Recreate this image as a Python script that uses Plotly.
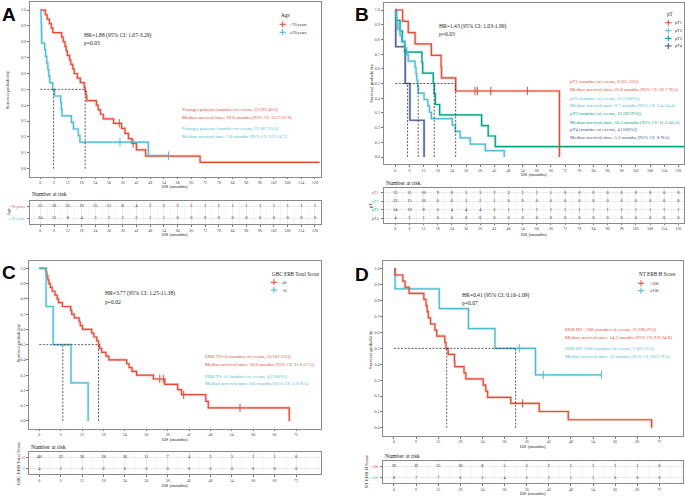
import plotly.graph_objects as go

W, H = 685, 497
RED = "#E64B35"
CYAN = "#4DBBD5"
GREEN = "#00A087"
NAVY = "#3C5488"
SERIF = "Liberation Serif"

# ---------------- Panel A : Age ----------------
a_groups = ["&lt;70 years", "≥70 years"]
a_lt70_t = [0, 2.2, 3.0, 4.0, 4.8, 5.5, 9.3, 10.0, 10.8, 11.3, 11.8, 12.8, 13.3, 14.2, 14.8, 16.2, 17.5,
            19.2, 19.6, 20.0, 20.3, 24.5, 25.3, 26.3, 27.5, 32.0, 35.5, 37.0, 38.5, 40.0, 42.0, 46.0, 69.8]
a_lt70_s = [1.0, 0.971, 0.943, 0.914, 0.886, 0.857, 0.829, 0.800, 0.771, 0.743, 0.714, 0.686, 0.657, 0.629,
            0.600, 0.571, 0.543, 0.514, 0.486, 0.457, 0.429, 0.400, 0.371, 0.343, 0.314, 0.286, 0.254, 0.222,
            0.190, 0.159, 0.119, 0.079, 0.040]
a_lt70_end = 122.0
a_lt70_cens_t = [34.5, 40.6]
a_lt70_cens_s = [0.286, 0.159]
a_ge70_t = [0, 0.3, 0.4, 0.5, 0.55, 0.6, 1.9, 2.3, 2.8, 3.3, 3.7, 4.1, 5.4, 6.2, 8.9, 9.2, 9.5, 13.6, 14.5,
            16.6, 17.3, 47.2]
a_ge70_s = [1.0, 0.958, 0.917, 0.875, 0.833, 0.792, 0.750, 0.708, 0.667, 0.625, 0.583, 0.542, 0.500, 0.458,
            0.417, 0.375, 0.333, 0.292, 0.250, 0.208, 0.167, 0.083]
a_ge70_end = 56.0
a_ge70_cens_t = [34.8, 56.0]
a_ge70_cens_s = [0.167, 0.083]
a_medians = [5.8, 19.6]
a_risk_times = list(range(0, 121, 6))
a_risk_lt70 = [35, 30, 25, 19, 15, 11, 8, 4, 2, 2, 2, 2, 1, 1, 1, 1, 1, 1, 1, 1, 1]
a_risk_ge70 = [24, 12, 8, 4, 3, 3, 2, 2, 1, 1, 0, 0, 0, 0, 0, 0, 0, 0, 0, 0, 0]
a_texts = ["Younger patients (number of events, 32 [91.4%])",
           "Median survival time: 19.6 months (95% CI: 13.7-31.9)",
           "Younger patients (number of events, 21 [87.5%])",
           "Median survival time: 5.8 months (95% CI: 2.9-14.7)"]
a_hr = ["HR=1.88 (95% CI: 1.07-3.29)", "p=0.03"]

# ---------------- Panel B : pT ----------------
b_groups = ["pT1", "pT2", "pT3", "pT4"]
b_pt1_t = [0, 3.1, 5.5, 8.4, 15.3, 19.4, 19.6, 25.6, 69.6]
b_pt1_s = [1.0, 0.923, 0.846, 0.769, 0.692, 0.615, 0.538, 0.449, 0.0]
b_pt1_end = 69.6
b_pt1_cens_t = [33.8, 34.8, 40.5, 56.0]
b_pt1_cens_s = [0.449, 0.449, 0.449, 0.449]
b_pt2_t = [0, 0.3, 0.6, 1.0, 2.0, 2.7, 4.1, 4.8, 5.5, 8.4, 8.8, 9.1, 9.5, 9.8, 12.2, 13.8, 14.5, 15.3,
           24.2, 25.4, 27.5, 31.8, 38.2, 46.2]
b_pt2_s = [1.0, 0.957, 0.913, 0.870, 0.826, 0.783, 0.739, 0.696, 0.652, 0.609, 0.565, 0.522, 0.478, 0.435,
           0.391, 0.348, 0.304, 0.261, 0.217, 0.174, 0.130, 0.087, 0.043, 0.0]
b_pt2_end = 46.2
b_pt3_t = [0, 0.5, 2.0, 3.0, 4.0, 11.3, 11.6, 16.1, 16.5, 17.0, 18.8, 36.6, 39.4, 42.4]
b_pt3_s = [1.0, 0.929, 0.857, 0.786, 0.714, 0.643, 0.571, 0.500, 0.429, 0.357, 0.286, 0.214, 0.143, 0.071]
b_pt3_end = 122.5
b_pt4_t = [0, 0.2, 4.2, 6.2, 12.2]
b_pt4_s = [1.0, 0.75, 0.50, 0.25, 0.0]
b_pt4_end = 12.2
b_medians = [25.6, 9.7, 16.5, 5.2]
b_risk_times = list(range(0, 121, 6))
b_risk_pt1 = [13, 11, 10, 9, 6, 5, 3, 2, 2, 2, 1, 1, 0, 0, 0, 0, 0, 0, 0, 0, 0]
b_risk_pt2 = [23, 15, 10, 6, 6, 3, 2, 1, 0, 0, 0, 0, 0, 0, 0, 0, 0, 0, 0, 0, 0]
b_risk_pt3 = [14, 10, 8, 5, 4, 4, 4, 2, 1, 1, 1, 1, 1, 1, 1, 1, 1, 1, 1, 1, 1]
b_risk_pt4 = [4, 2, 1, 0, 0, 0, 0, 0, 0, 0, 0, 0, 0, 0, 0, 0, 0, 0, 0, 0, 0]
b_texts = ["pT1 (number of events, 8 [61.5%])",
           "Median survival time: 25.6 months (95% CI: 16.7-NA)",
           "pT2 (number of events, 23 [100%])",
           "Median survival time: 9.7 months (95% CI: 5.4-24.4)",
           "pT3 (number of events, 13 [92.9%])",
           "Median survival time: 16.5 months (95% CI: 11.2-42.5)",
           "pT4 (number of events, 4 [100%])",
           "Median survival time: 5.2 months (95% CI: 0-NA)"]
b_hr = ["HR=1.43 (95% CI: 1.03-1.99)", "p=0.03"]

# ---------------- Panel C : GBC ERB Total Score ----------------
c_groups = ["≤6", "&gt;6"]
c_le6_t = [0, 1.9, 2.1, 2.4, 2.7, 3.1, 3.6, 4.4, 5.0, 5.4, 6.5, 8.8, 9.1, 9.8, 11.2, 11.5, 12.1, 14.7, 15.3,
           16.1, 16.6, 16.9, 17.5, 18.7, 19.5, 24.5, 25.2, 26.0, 27.3, 32.0, 35.2, 38.8, 39.9, 46.7, 47.4, 70.1]
c_le6_s = [1.0, 0.975, 0.95, 0.925, 0.9, 0.875, 0.85, 0.825, 0.8, 0.775, 0.75, 0.725, 0.7, 0.675, 0.65,
           0.625, 0.6, 0.575, 0.55, 0.525, 0.5, 0.475, 0.45, 0.425, 0.4, 0.375, 0.35, 0.325, 0.3, 0.275,
           0.24, 0.206, 0.172, 0.129, 0.086, 0.0]
c_le6_end = 70.1
c_le6_cens_t = [33.8, 34.8, 40.5, 56.3]
c_le6_cens_s = [0.275, 0.275, 0.172, 0.086]
c_gt6_t = [0, 1.9, 3.9, 8.9, 13.7]
c_gt6_s = [1.0, 0.75, 0.5, 0.25, 0.0]
c_gt6_end = 13.7
c_medians = [16.6, 6.6]
c_risk_times = list(range(0, 73, 6))
c_risk_le6 = [40, 33, 26, 18, 16, 11, 7, 4, 3, 3, 1, 1, 0]
c_risk_gt6 = [4, 2, 1, 0, 0, 0, 0, 0, 0, 0, 0, 0, 0]
c_texts = ["ERB TS ≤6 (number of events, 35 [87.5%])",
           "Median survival time: 16.6 months (95% CI: 11.6-27.5)",
           "ERB TS &gt;6 (number of events, 4 [100%])",
           "Median survival time: 6.6 months (95% CI: 1.9-NA)"]
c_hr = ["HR=3.77 (95% CI: 1.25-11.38)", "p=0.02"]

# ---------------- Panel D : NT ERB H Score ----------------
d_groups = ["&lt;100", "≥100"]
d_lt100_t = [0, 0.3, 2.4, 3.0, 4.1, 8.1, 8.7, 9.0, 9.3, 9.9, 11.1, 11.6, 13.8, 14.1, 14.7, 16.4, 16.5,
             19.0, 19.5, 24.2, 24.9, 25.4, 31.7, 39.4, 47.3, 69.9]
d_lt100_s = [1.0, 0.962, 0.923, 0.885, 0.846, 0.808, 0.769, 0.731, 0.692, 0.654, 0.615, 0.577, 0.538, 0.500,
             0.462, 0.423, 0.385, 0.346, 0.308, 0.269, 0.231, 0.192, 0.154, 0.103, 0.051, 0.0]
d_lt100_end = 69.9
d_lt100_cens_t = [34.9]
d_lt100_cens_s = [0.154]
d_ge100_t = [0, 0.3, 12.3, 20.2, 27.4, 38.4]
d_ge100_s = [1.0, 0.875, 0.75, 0.625, 0.5, 0.333]
d_ge100_end = 56.3
d_ge100_cens_t = [34.0, 40.5, 56.3]
d_ge100_cens_s = [0.5, 0.333, 0.333]
d_medians = [14.3, 33.0]
d_risk_times = list(range(0, 73, 6))
d_risk_lt100 = [26, 22, 15, 10, 8, 5, 3, 2, 1, 1, 1, 1, 0]
d_risk_ge100 = [8, 7, 7, 6, 5, 4, 3, 1, 1, 1, 0, 0, 0]
d_texts = ["ERB HS &lt;100 (number of events, 25 [96.2%])",
           "Median survival time: 14.3 months (95% CI: 9.9-24.8)",
           "ERB HS ≥100 (number of events, 5 [62.5%])",
           "Median survival time: 33 months (95% CI: 20.2-NA)"]
d_hr = ["HR=0.41 (95% CI: 0.16-1.09)", "p=0.07"]

y_ticks = [0.0, 0.1, 0.2, 0.3, 0.4, 0.5, 0.6, 0.7, 0.8, 0.9, 1.0]
y_labels = ["0.0", "0.1", "0.2", "0.3", "0.4", "0.5", "0.6", "0.7", "0.8", "0.9", "1.0"]


def PX(x):
    return x / W


def PY(y):
    return 1 - y / H


fig = go.Figure()
annotations = []
shapes = []


def ann(x, y, text, size, color="#222222", xanchor="left", family=SERIF, textangle=0, yanchor="middle"):
    annotations.append(dict(x=PX(x), y=PY(y), xref="paper", yref="paper", text=text, showarrow=False,
                            xanchor=xanchor, yanchor=yanchor, textangle=textangle,
                            font=dict(family=family, size=size, color=color)))


def build_panel(idx, cfg):
    xm = "x" if idx == 0 else "x%d" % (2 * idx + 1)
    ym = "y" if idx == 0 else "y%d" % (2 * idx + 1)
    xt = "x%d" % (2 * idx + 2)
    yt = "y%d" % (2 * idx + 2)
    L, R = cfg["mx"]
    T, B = cfg["my"]
    TT, TB = cfg["ty"]
    xr = cfg["xr"]
    ticks = cfg["ticks"]
    axis_common = dict(range=xr, tickmode="array", tickvals=ticks, ticktext=[str(t) for t in ticks],
                       ticks="outside", ticklen=1.8, tickwidth=0.6, tickcolor="#777777",
                       tickfont=dict(family=SERIF, size=4, color="#444444"),
                       showline=True, mirror=True, linecolor="#8a8a8a", linewidth=0.9,
                       zeroline=False, domain=[PX(L), PX(R)])
    lay = {}
    lay["xaxis" if idx == 0 else "xaxis%d" % (2 * idx + 1)] = dict(axis_common, anchor=ym, showgrid=False)
    lay["yaxis" if idx == 0 else "yaxis%d" % (2 * idx + 1)] = dict(
        range=[-0.05, 1.05], tickmode="array", tickvals=y_ticks, ticktext=y_labels,
        ticks="outside", ticklen=2, tickwidth=0.6, tickcolor="#777777",
        tickfont=dict(family=SERIF, size=4, color="#444444"), showline=True, mirror=True,
        linecolor="#8a8a8a", linewidth=0.9, zeroline=False, showgrid=False, domain=[PY(B), PY(T)], anchor=xm)
    n = len(cfg["groups"])
    lay["xaxis%d" % (2 * idx + 2)] = dict(axis_common, anchor=yt, showgrid=True, gridcolor="#ECECEC",
                                          gridwidth=0.6,
                                          minor=dict(dtick=3, tick0=0, showgrid=True, gridcolor="#F6F6F6",
                                                     gridwidth=0.5, ticks=""))
    lay["yaxis%d" % (2 * idx + 2)] = dict(range=[n + 0.5, 0.5], tickmode="array",
                                          tickvals=list(range(1, n + 1)), showticklabels=False,
                                          ticks="outside", ticklen=2, tickwidth=0.6, tickcolor="#777777",
                                          showline=True, mirror=True, linecolor="#8a8a8a",
                                          linewidth=0.9, zeroline=False, showgrid=True, gridcolor="#ECECEC",
                                          gridwidth=0.6, domain=[PY(TB), PY(TT)], anchor=xt)
    fig.update_layout(**lay)

    # curves
    for cur in cfg["curves"]:
        t, s, end, color = cur["t"], cur["s"], cur["end"], cur["color"]
        xs = list(t) + [end]
        ys = list(s) + [s[-1]]
        fig.add_trace(go.Scatter(x=xs, y=ys, mode="lines", line=dict(shape="hv", color=color, width=2.6),
                                 opacity=0.3, xaxis=xm, yaxis=ym, showlegend=False, hoverinfo="skip"))
        fig.add_trace(go.Scatter(x=xs, y=ys, mode="lines", line=dict(shape="hv", color=color, width=1.2),
                                 xaxis=xm, yaxis=ym, showlegend=False, hoverinfo="skip"))
        if cur.get("ct"):
            fig.add_trace(go.Scatter(x=cur["ct"], y=cur["cs"], mode="markers",
                                     marker=dict(symbol="line-ns-open", size=6, color=color,
                                                 line=dict(color=color, width=1)),
                                     xaxis=xm, yaxis=ym, showlegend=False, hoverinfo="skip"))
    # median lines
    meds = cfg["medians"]
    dash = dict(color="#333333", width=0.8, dash="2px,1.5px")
    shapes.append(dict(type="line", xref=xm, yref=ym, x0=0, x1=max(meds), y0=0.5, y1=0.5, line=dash))
    for m in meds:
        shapes.append(dict(type="line", xref=xm, yref=ym, x0=m, x1=m, y0=0, y1=0.5, line=dash))

    # risk table
    for i, (row, color) in enumerate(zip(cfg["risk"], cfg["colors"])):
        fig.add_trace(go.Scatter(x=cfg["risk_times"], y=[i + 1] * len(row), mode="text",
                                 text=[str(v) for v in row],
                                 textfont=dict(family=SERIF, size=4.4, color="#222222"),
                                 xaxis=xt, yaxis=yt, showlegend=False, hoverinfo="skip"))
        ypix = TT + (TB - TT) * (i + 0.5) / n
        ann(cfg["rowlab_x"], ypix, cfg["groups"][i], 4, color=color, xanchor="right")

    # texts
    lx, ly = cfg["letter"]
    ann(lx, ly, "<b>%s</b>" % cfg["name"], 19, color="#000000", family="Liberation Sans", yanchor="top")
    ann(cfg["ytitle"][0], cfg["ytitle"][1], "Survival probability", 4.8, textangle=-90, xanchor="center")
    ann((L + R) / 2, cfg["xtitle_y"], "OS (months)", 5, xanchor="center")
    ann((L + R) / 2, cfg["txtitle_y"], "OS (months)", 5, xanchor="center")
    ann(L, cfg["nar_y"], "Number at risk", 5.8)
    ann(cfg["tytitle"][0], cfg["tytitle"][1], cfg["tytitle"][2], 4.8, textangle=-90, xanchor="center")
    hx, hy1, hy2 = cfg["hr_pos"]
    ann(hx, hy1, cfg["hr"][0], 5.6)
    ann(hx, hy2, cfg["hr"][1], 5.6)
    tx = cfg["text_x"]
    for j, (txt, yy) in enumerate(zip(cfg["texts"], cfg["text_y"])):
        ann(tx, yy, txt, 4.9, color=cfg["colors"][j // 2])
    # legend
    gx, gy = cfg["leg_title"]
    ann(gx, gy, cfg["leg_name"], 5.2)
    sx, txl = cfg["leg_x"]
    for j, yy in enumerate(cfg["leg_y"]):
        c = cfg["colors"][j]
        shapes.append(dict(type="line", xref="paper", yref="paper", x0=PX(sx - 3.2), x1=PX(sx + 3.2),
                           y0=PY(yy), y1=PY(yy), line=dict(color=c, width=1.1)))
        shapes.append(dict(type="line", xref="paper", yref="paper", x0=PX(sx), x1=PX(sx),
                           y0=PY(yy - 3), y1=PY(yy + 3), line=dict(color=c, width=1)))
        ann(txl, yy, cfg["groups"][j], 4.2)


ticks120 = list(range(0, 121, 6))
ticks72 = list(range(0, 73, 6))

panels = [
    dict(name="A", mx=(30, 320.7), my=(2.1, 176.6), ty=(200.5, 224), xr=[-4.5, 122.5], ticks=ticks120,
         groups=a_groups, colors=[RED, CYAN],
         curves=[dict(t=a_lt70_t, s=a_lt70_s, end=a_lt70_end, color=RED, ct=a_lt70_cens_t, cs=a_lt70_cens_s),
                 dict(t=a_ge70_t, s=a_ge70_s, end=a_ge70_end, color=CYAN, ct=a_ge70_cens_t, cs=a_ge70_cens_s)],
         medians=a_medians, risk=[a_risk_lt70, a_risk_ge70], risk_times=a_risk_times, rowlab_x=27,
         letter=(0, 2), ytitle=(8.3, 90), xtitle_y=186.5, txtitle_y=234, nar_y=194.3,
         tytitle=(8, 212, "Age"), hr=a_hr, hr_pos=(81.7, 35, 43.3), texts=a_texts, text_x=180,
         text_y=[110, 117.3, 129.3, 136.7], leg_title=(279.3, 15), leg_name="Age", leg_x=(282.7, 288.3),
         leg_y=[24.3, 32.3]),
    dict(name="B", mx=(383.5, 684.2), my=(2.65, 164.35), ty=(188.3, 222.7), xr=[-5, 122.5], ticks=ticks120,
         groups=b_groups, colors=[RED, CYAN, GREEN, NAVY],
         curves=[dict(t=b_pt4_t, s=b_pt4_s, end=b_pt4_end, color=NAVY),
                 dict(t=b_pt3_t, s=b_pt3_s, end=b_pt3_end, color=GREEN),
                 dict(t=b_pt2_t, s=b_pt2_s, end=b_pt2_end, color=CYAN),
                 dict(t=b_pt1_t, s=b_pt1_s, end=b_pt1_end, color=RED, ct=b_pt1_cens_t, cs=b_pt1_cens_s)],
         medians=b_medians, risk=[b_risk_pt1, b_risk_pt2, b_risk_pt3, b_risk_pt4], risk_times=b_risk_times,
         rowlab_x=380.5, letter=(353, 2), ytitle=(371.7, 83), xtitle_y=174.3, txtitle_y=234, nar_y=183.5,
         tytitle=(370.7, 205.5, "pT"), hr=b_hr, hr_pos=(436.7, 26, 34.3), texts=b_texts, text_x=567.7,
         text_y=[81.7, 89.3, 98.7, 105.7, 114.3, 122.3, 130, 137.7], leg_title=(665, 14), leg_name="pT",
         leg_x=(668.3, 673.3), leg_y=[22.7, 30.7, 38.3, 46]),
    dict(name="C", mx=(29.3, 320.6), my=(260.7, 428.6), ty=(451.7, 474), xr=[-2.8, 78.9], ticks=ticks72,
         groups=c_groups, colors=[RED, CYAN],
         curves=[dict(t=c_le6_t, s=c_le6_s, end=c_le6_end, color=RED, ct=c_le6_cens_t, cs=c_le6_cens_s),
                 dict(t=c_gt6_t, s=c_gt6_s, end=c_gt6_end, color=CYAN)],
         medians=c_medians, risk=[c_risk_le6, c_risk_gt6], risk_times=c_risk_times, rowlab_x=26.5,
         letter=(0, 260), ytitle=(18.3, 343), xtitle_y=439.5, txtitle_y=485, nar_y=446.7,
         tytitle=(18.3, 464, "GBC ERB Total Score"), hr=c_hr, hr_pos=(103.3, 293.3, 301.7), texts=c_texts,
         text_x=203.3, text_y=[357.3, 364.3, 376.7, 383.3], leg_title=(270, 274),
         leg_name="GBC ERB Total Score", leg_x=(274, 280), leg_y=[282.3, 290]),
    dict(name="D", mx=(383.3, 683.3), my=(261, 435.8), ty=(460.7, 483.3), xr=[-2.9, 78.5], ticks=ticks72,
         groups=d_groups, colors=[RED, CYAN],
         curves=[dict(t=d_ge100_t, s=d_ge100_s, end=d_ge100_end, color=CYAN, ct=d_ge100_cens_t,
                      cs=d_ge100_cens_s),
                 dict(t=d_lt100_t, s=d_lt100_s, end=d_lt100_end, color=RED, ct=d_lt100_cens_t,
                      cs=d_lt100_cens_s)],
         medians=d_medians, risk=[d_risk_lt100, d_risk_ge100], risk_times=d_risk_times, rowlab_x=380.5,
         letter=(353, 262), ytitle=(370, 350), xtitle_y=446.5, txtitle_y=493.5, nar_y=455.9,
         tytitle=(366.7, 471.7, "NT ERB H Score"), hr=d_hr, hr_pos=(460, 295, 302.7), texts=d_texts,
         text_x=562.7, text_y=[330, 337.3, 349.3, 356.7], leg_title=(636.7, 274.3),
         leg_name="NT ERB H Score", leg_x=(641, 648.3), leg_y=[283.3, 290.7]),
]

for i, p in enumerate(panels):
    build_panel(i, p)

fig.update_layout(width=W, height=H, margin=dict(l=0, r=0, t=0, b=0), plot_bgcolor="white",
                  paper_bgcolor="white", showlegend=False, annotations=annotations, shapes=shapes,
                  font=dict(family=SERIF))
fig.write_html("out.html", config={"displayModeBar": False},
               post_script="document.body.style.margin='0';document.body.style.overflow='hidden';")
